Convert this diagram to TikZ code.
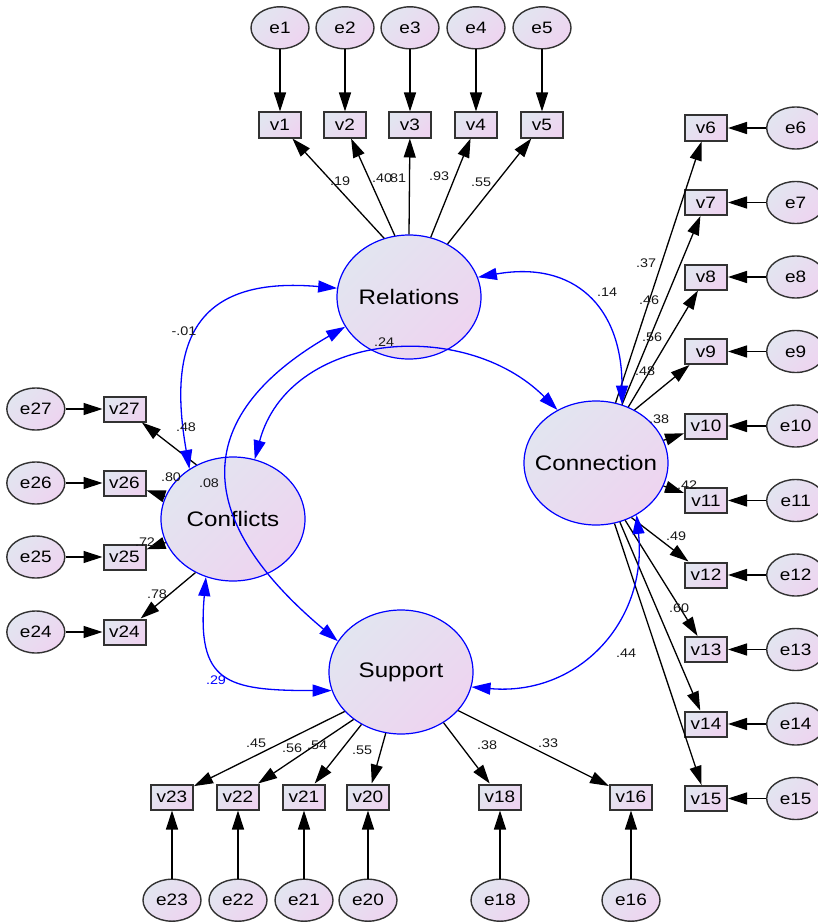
\documentclass[tikz,border=0pt]{standalone}
\usepackage{fontspec}
\setmainfont{Liberation Sans}[FakeStretch=1.15]
\usetikzlibrary{positioning,shapes.geometric,arrows.meta,backgrounds}

\definecolor{shadeA}{RGB}{226,229,240}
\definecolor{shadeB}{RGB}{238,212,240}
\definecolor{rim}{RGB}{50,50,50}

\tikzset{
  latent/.style={ellipse, draw=blue, line width=1.2pt, inner ysep=0pt, inner xsep=-25pt,
    minimum width=144pt, minimum height=124pt,
    top color=shadeA, bottom color=shadeB, shading angle=45,
    font=\fontsize{21}{21}\selectfont},
  err/.style={ellipse, draw=rim, line width=1.4pt, inner sep=0pt,
    minimum width=58pt, minimum height=42pt,
    top color=shadeA, bottom color=shadeB, shading angle=45,
    font=\fontsize{16.5}{16.5}\selectfont},
  obs/.style={rectangle, draw=rim, line width=2pt, inner sep=0pt,
    minimum width=42pt, minimum height=25pt,
    top color=shadeA, bottom color=shadeB, shading angle=45,
    font=\fontsize{16.5}{16.5}\selectfont},
  load/.style={draw=black, line width=1.3pt, -{Triangle[length=19pt,width=12pt]}},
  cov/.style={draw=blue, line width=1.3pt,
    {Triangle[length=19pt,width=12pt]}-{Triangle[length=19pt,width=12pt]}},
  coef/.style={inner sep=0pt, text=black!90, font=\fontsize{12.5}{12.5}\selectfont},
}

\begin{document}
\begin{tikzpicture}[x=1pt,y=-1pt]
  \path[use as bounding box, fill=white] (0,0) rectangle (817,923);

  % latent factors
  \node[latent] (Rel) at (409,297) {Relations};
  \node[latent] (Con) at (596,463) {Connection};
  \node[latent] (Conf) at (233,519) {Conflicts};
  \node[latent] (Sup) at (401,672) {Support};

  % coefficients hidden under boxes
  \begin{pgfonlayer}{background}
    \node[coef] (c12) at (681,567) {.48};
    \node[coef] (c14) at (678,647) {.47};
  \end{pgfonlayer}

  % Relations indicators, errors above
  \node[obs] (v1) at (280,125) {v1};
  \node[obs] (v2) at (345,125) {v2};
  \node[obs] (v3) at (410,125) {v3};
  \node[obs] (v4) at (476,125) {v4};
  \node[obs] (v5) at (542,125) {v5};
  \node[err, above=62pt of v1] (e1) {e1};
  \node[err, above=62pt of v2] (e2) {e2};
  \node[err, above=62pt of v3] (e3) {e3};
  \node[err, above=62pt of v4] (e4) {e4};
  \node[err, above=62pt of v5] (e5) {e5};

  % Connection indicators, errors to the right
  \node[obs] (v6) at (706,128) {v6};
  \node[obs] (v7) at (706,202.5) {v7};
  \node[obs] (v8) at (706,277) {v8};
  \node[obs] (v9) at (706,351.5) {v9};
  \node[obs] (v10) at (706,426) {v10};
  \node[obs] (v11) at (706,500.5) {v11};
  \node[obs] (v12) at (706,575) {v12};
  \node[obs] (v13) at (706,649.5) {v13};
  \node[obs] (v14) at (706,724) {v14};
  \node[obs] (v15) at (706,798.5) {v15};
  \node[err, right=38pt of v6] (e6) {e6};
  \node[err, right=38pt of v7] (e7) {e7};
  \node[err, right=38pt of v8] (e8) {e8};
  \node[err, right=38pt of v9] (e9) {e9};
  \node[err, right=38pt of v10] (e10) {e10};
  \node[err, right=38pt of v11] (e11) {e11};
  \node[err, right=38pt of v12] (e12) {e12};
  \node[err, right=38pt of v13] (e13) {e13};
  \node[err, right=38pt of v14] (e14) {e14};
  \node[err, right=38pt of v15] (e15) {e15};

  % Support indicators, errors below
  \node[obs] (v23) at (172,797) {v23};
  \node[obs] (v22) at (238,797) {v22};
  \node[obs] (v21) at (304,797) {v21};
  \node[obs] (v20) at (368,797) {v20};
  \node[obs] (v18) at (500,797) {v18};
  \node[obs] (v16) at (631,797) {v16};
  \node[err, below=68pt of v23] (e23) {e23};
  \node[err, below=68pt of v22] (e22) {e22};
  \node[err, below=68pt of v21] (e21) {e21};
  \node[err, below=68pt of v20] (e20) {e20};
  \node[err, below=68pt of v18] (e18) {e18};
  \node[err, below=68pt of v16] (e16) {e16};

  % Conflicts indicators, errors to the left
  \node[obs] (v27) at (124.5,409) {v27};
  \node[obs] (v26) at (124.5,483) {v26};
  \node[obs] (v25) at (124.5,557) {v25};
  \node[obs] (v24) at (124.5,632) {v24};
  \node[err, left=37pt of v27] (e27) {e27};
  \node[err, left=37pt of v26] (e26) {e26};
  \node[err, left=37pt of v25] (e25) {e25};
  \node[err, left=37pt of v24] (e24) {e24};

  % error paths
  \path (e1) edge[load] (v1) (e2) edge[load] (v2) (e3) edge[load] (v3)
    (e4) edge[load] (v4) (e5) edge[load] (v5);
  \path (e6) edge[load] (v6) (e7) edge[load] (v7) (e8) edge[load] (v8)
    (e9) edge[load] (v9) (e10) edge[load] (v10) (e11) edge[load] (v11)
    (e12) edge[load] (v12) (e13) edge[load] (v13) (e14) edge[load] (v14)
    (e15) edge[load] (v15);
  \path (e23) edge[load] (v23) (e22) edge[load] (v22) (e21) edge[load] (v21)
    (e20) edge[load] (v20) (e18) edge[load] (v18) (e16) edge[load] (v16);
  \path (e27) edge[load] (v27) (e26) edge[load] (v26) (e25) edge[load] (v25)
    (e24) edge[load] (v24);

  % loadings
  \path (Rel.113) edge[load] (v1) (Rel.103) edge[load] (v2) (Rel.90) edge[load] (v3)
    (Rel.70) edge[load] (v4) (Rel.54) edge[load] (v5);
  \path (Con.72) edge[load] (v6) (Con.66) edge[load] (v7) (Con.60) edge[load] (v8)
    (Con.54) edge[load] (v9) (Con) edge[load] (v10) (Con) edge[load] (v11)
    (Con.-57) edge[load] (v12) (Con.-63) edge[load] (v13)
    (Con.-68) edge[load] (v14) (Con.-73) edge[load] (v15);
  \path (Sup.215) edge[load] (v23) (Sup.225) edge[load] (v22) (Sup.233) edge[load] (v21)
    (Sup.256) edge[load] (v20) (Sup.-50) edge[load] (v18) (Sup.-34) edge[load] (v16);
  \path (Conf.124) edge[load] (v27) (Conf) edge[load] (v26) (Conf) edge[load] (v25)
    (Conf.235) edge[load] (v24);

  % covariances
  \draw[cov] (Rel.16) to[out=10, in=90, looseness=1.3] (Con.66);
  \draw[cov] (Rel.173) to[out=175, in=100, looseness=1.5] (Conf.131);
  \draw[cov] (Rel.205) to[out=210, in=140, looseness=1.5] (Sup.154);
  \draw[cov] (Conf.70) to[out=75, in=135, looseness=1.1] (Con.126);
  \draw[cov] (Conf.245) to[out=265, in=180, looseness=1.6] (Sup.195);
  \draw[cov] (Con.-52) to[out=-84, in=-5, looseness=1.15] (Sup.-12);

  % coefficients
  \node[coef] (c1) at (340,181) {.19};
  \node[coef] (c2) at (382,178) {.40};
  \node[coef] (c3) at (396,178) {.81};
  \node[coef] (c4) at (439,176) {.93};
  \node[coef] (c5) at (481,182) {.55};
  \node[coef] (c6) at (646,263) {.37};
  \node[coef] (c7) at (649,300) {.46};
  \node[coef] (c8) at (652,337) {.56};
  \node[coef] (c9) at (645,371) {.48};
  \node[coef] (c10) at (659,419) {.38};
  \node[coef] (c11) at (687,485) {.42};
  \node[coef] (c13) at (676,536) {.49};
  \node[coef] (c15) at (679,608) {.60};
  \node[coef] (c16) at (186,427) {.48};
  \node[coef] (c17) at (171,477) {.80};
  \node[coef] (c18) at (145,542) {.72};
  \node[coef] (c19) at (157,594) {.78};
  \node[coef] (c20) at (256,743) {.45};
  \node[coef] (c21) at (292,748) {.56};
  \node[coef] (c22) at (317,745) {.54};
  \node[coef] (c23) at (362,750) {.55};
  \node[coef] (c24) at (487,745) {.38};
  \node[coef] (c25) at (548,743) {.33};
  \node[coef] (k1) at (184,331) {-.01};
  \node[coef] (k2) at (607,292) {.14};
  \node[coef] (k3) at (209,483) {.08};
  \node[coef] (k4) at (384,342) {.24};
  \node[coef, text=blue] (k5) at (216,680) {.29};
  \node[coef] (k6) at (626,653) {.44};
\end{tikzpicture}
\end{document}
